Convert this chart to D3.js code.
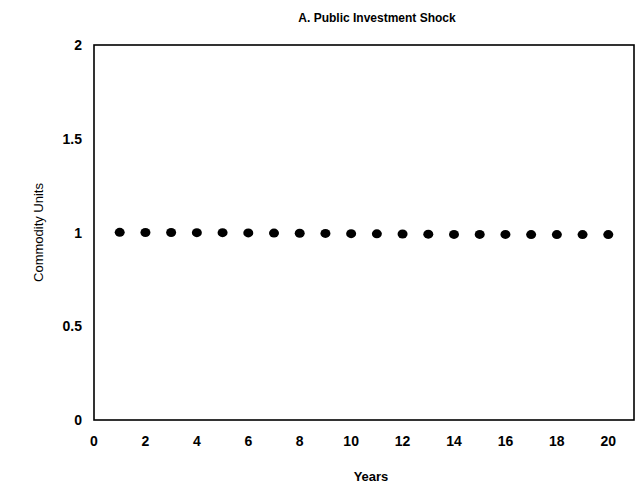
<!DOCTYPE html>
<html>
<head>
<meta charset="utf-8">
<script src="https://cdn.jsdelivr.net/npm/d3@7"></script>
<style>
  body { margin: 0; background: #fff; }
  text { font-family: "Liberation Sans", Arial, sans-serif; fill: #000; }
</style>
</head>
<body>
<svg id="chart" width="637" height="487"></svg>
<script>
const years = [1, 2, 3, 4, 5, 6, 7, 8, 9, 10, 11, 12, 13, 14, 15, 16, 17, 18, 19, 20];
const units = [1.001, 1.0, 1.0, 0.999, 0.999, 0.998, 0.997, 0.996, 0.995, 0.994,
               0.993, 0.992, 0.991, 0.99, 0.99, 0.99, 0.989, 0.989, 0.989, 0.989];
const xTicks = [0, 2, 4, 6, 8, 10, 12, 14, 16, 18, 20];
const yTicks = [0, 0.5, 1, 1.5, 2];

const svg = d3.select("#chart");
const m = { left: 94, right: 3, top: 45, bottom: 67 };
const W = 637, H = 487;

const x = d3.scaleLinear().domain([0, 21]).range([m.left, W - m.right]);
const y = d3.scaleLinear().domain([0, 2]).range([H - m.bottom, m.top]);

// frame
svg.append("rect")
  .attr("x", x(0)).attr("y", y(2))
  .attr("width", x(21) - x(0)).attr("height", y(0) - y(2))
  .attr("fill", "none").attr("stroke", "#000").attr("stroke-width", 1.6);

// tick labels
svg.append("g").selectAll("text").data(yTicks).join("text")
  .attr("x", x(0) - 12).attr("y", d => y(d) + 5)
  .attr("text-anchor", "end")
  .style("font-size", "14px").style("font-weight", "bold")
  .text(d => d);

svg.append("g").selectAll("text").data(xTicks).join("text")
  .attr("x", d => x(d)).attr("y", y(0) + 26)
  .attr("text-anchor", "middle")
  .style("font-size", "14px").style("font-weight", "bold")
  .text(d => d);

// points
svg.append("g").selectAll("ellipse").data(years).join("ellipse")
  .attr("cx", d => x(d))
  .attr("cy", (d, i) => y(units[i]))
  .attr("rx", 5).attr("ry", 4.5)
  .attr("fill", "#000");

// titles
svg.append("text")
  .attr("x", 377).attr("y", 22)
  .attr("text-anchor", "middle")
  .style("font-size", "12px").style("font-weight", "bold")
  .text("A. Public Investment Shock");

svg.append("text")
  .attr("x", 371).attr("y", 481)
  .attr("text-anchor", "middle")
  .style("font-size", "13px").style("font-weight", "bold")
  .text("Years");

svg.append("text")
  .attr("transform", `translate(43,${y(1)}) rotate(-90)`)
  .attr("text-anchor", "middle")
  .style("font-size", "13px")
  .text("Commodity Units");
</script>
</body>
</html>
